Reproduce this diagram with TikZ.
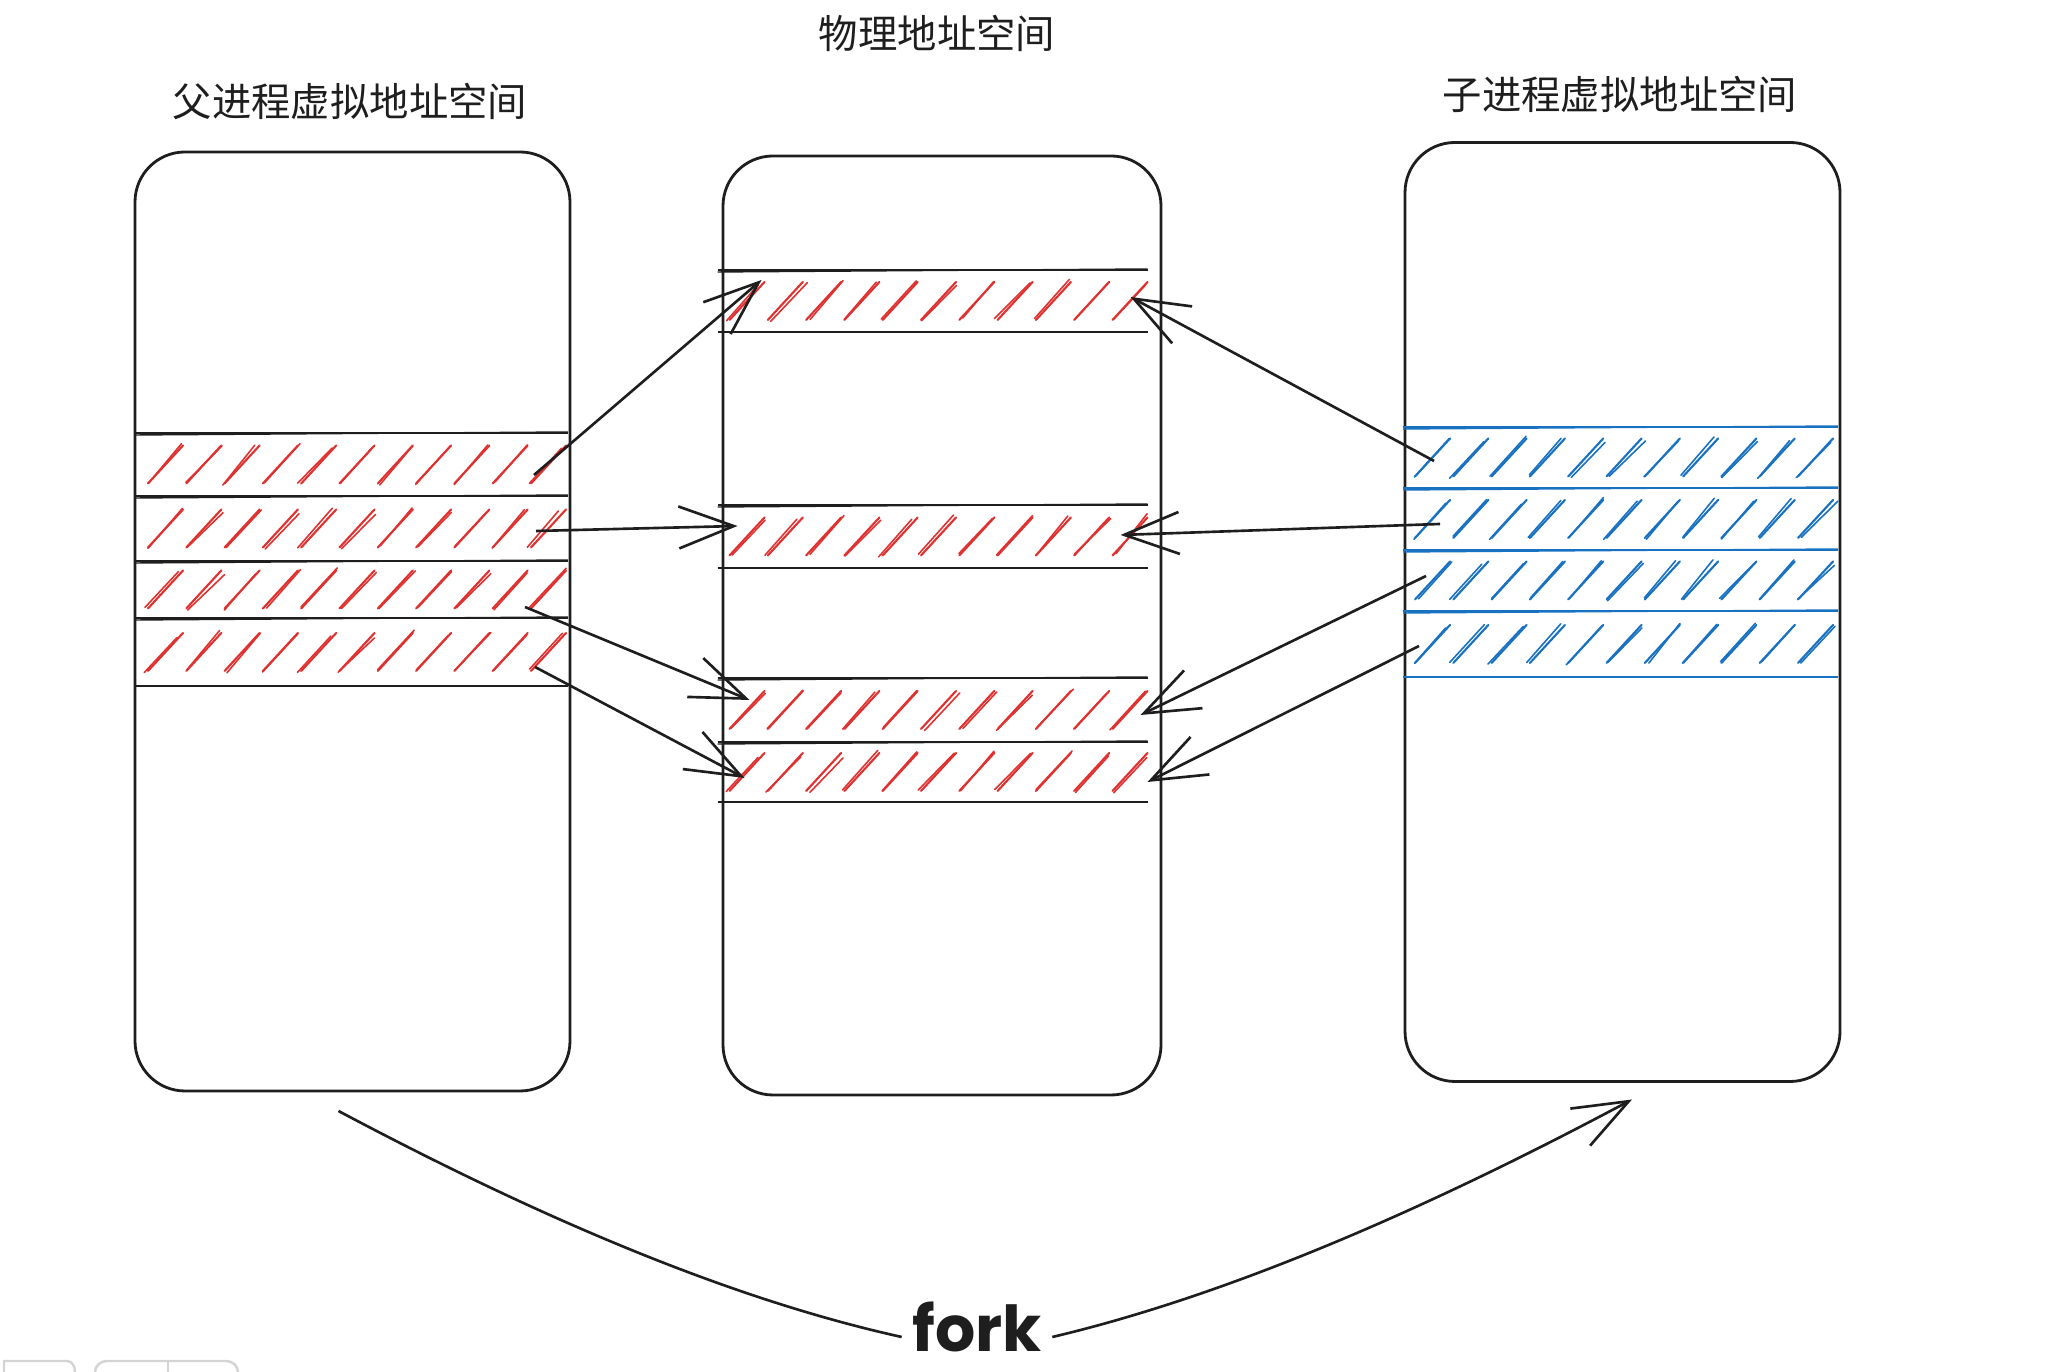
\documentclass[tikz,border=0pt]{standalone}
\usepackage{fontspec}
\newfontfamily\cjkfont{Noto Sans CJK SC}
\newfontfamily\handfont{Poppins}
\usetikzlibrary{arrows.meta,calc,positioning}
\definecolor{ink}{HTML}{1E1E1E}
\definecolor{inkred}{HTML}{E03131}
\definecolor{inkblue}{HTML}{1971C2}
\definecolor{uigray}{HTML}{D4D4D4}

\begin{document}
\begin{tikzpicture}[
procbox/.style={draw=ink,line width=.8pt,rounded corners=.5cm,inner sep=0,outer sep=0,
  minimum width=4.35cm,minimum height=9.39cm},
band/.style={inner sep=0,outer sep=0,minimum width=4.32cm},
title/.style={text=ink,font=\cjkfont\fontsize{11.2}{13}\selectfont},
hatch/.style={line width=.6pt,line cap=round},
bandline/.style={line width=.8pt},
link/.style={draw=ink,line width=.75pt,-{Straight Barb[length=.55cm,width=.42cm]}},
ui/.style={draw=uigray,line width=.7pt}]
\useasboundingbox (0,0) rectangle (20.68,13.72);
\pgfmathsetseed{42}

% three address spaces
\node[procbox] (parent) at (3.525,7.505) {};
\node[procbox,minimum width=4.38cm] (phys) at (9.42,7.465) {};
\node[procbox] (child) at (16.225,7.60) {};

\node[title] (ptitle) at (3.50,12.70) {父进程虚拟地址空间};
\node[title] (mtitle) at (9.37,13.39) {物理地址空间};
\node[title] (ctitle) at (16.20,12.78) {子进程虚拟地址空间};

% pages of the parent
\node[band,minimum height=.63cm] (L1) at (3.52,9.075) {};
\node[band,minimum height=.65cm,below=0pt of L1] (L2) {};
\node[band,minimum height=.57cm,below=0pt of L2] (L3) {};
\node[band,minimum height=.68cm,below=0pt of L3] (L4) {};

% physical frames
\node[band,minimum width=4.30cm,minimum height=.62cm] (P1) at (9.325,10.71) {};
\node[band,minimum width=4.30cm,minimum height=.63cm] (P2) at (9.325,8.355) {};
\node[band,minimum width=4.30cm,minimum height=.64cm] (P3) at (9.325,6.62) {};
\node[band,minimum width=4.30cm,minimum height=.60cm,below=0pt of P3] (P4) {};

% pages of the child
\node[band,minimum width=4.35cm,minimum height=.61cm] (C1) at (16.205,9.145) {};
\node[band,minimum width=4.35cm,minimum height=.62cm,below=0pt of C1] (C2) {};
\node[band,minimum width=4.35cm,minimum height=.61cm,below=0pt of C2] (C3) {};
\node[band,minimum width=4.35cm,minimum height=.66cm,below=0pt of C3] (C4) {};

\foreach \b/\c in {L1/ink,L2/ink,L3/ink,L4/ink,P1/ink,P2/ink,P3/ink,P4/ink,
                   C1/inkblue,C2/inkblue,C3/inkblue,C4/inkblue} {
  \draw[bandline,draw=\c] (\b.north west) -- (\b.north east)
                          (\b.south west) -- (\b.south east);
  \draw[bandline,draw=\c,line width=.4pt] ([yshift=-.02cm]\b.north west) -- ([yshift=.01cm]\b.north east);
}

% hatching
\foreach \b/\c in {L1/inkred,L2/inkred,L3/inkred,L4/inkred,
                   P1/inkred,P2/inkred,P3/inkred,P4/inkred,
                   C1/inkblue,C2/inkblue,C3/inkblue,C4/inkblue} {
  \foreach \k in {0,...,10} {
    \pgfmathsetmacro\sx{0.29+0.383*\k}
    \draw[hatch,draw=\c] ($(\b.west)+({\sx-0.17},-0.19)$) -- ++(0.35,0.38);
    \draw[hatch,draw=\c,line width=.45pt]
      ($(\b.west)+({\sx-0.17+0.04*rand},{-0.19+0.02*rand})$) -- ++({0.34+0.03*rand},{0.37+0.03*rand});
  }
}

% copy on write mappings
\draw[link] ($(L1.east)+(-0.34,-0.105)$) -- ($(P1.west)+(0.44,0.21)$);
\draw[link] ($(L2.east)+(-0.32,-0.025)$) -- ($(P2.west)+(0.20,0.105)$);
\draw[link] ($(L3.east)+(-0.43,-0.175)$) -- ($(P3.west)+(0.32,0.10)$);
\draw[link] ($(L4.east)+(-0.33,-0.15)$) -- ($(P4.west)+(0.27,-0.06)$);
\draw[link] ($(C1.west)+(0.31,-0.035)$) -- ($(P1.east)+(-0.17,0.04)$);
\draw[link] ($(C2.west)+(0.37,-0.05)$) -- ($(P2.east)+(-0.27,0.015)$);
\draw[link] ($(C3.west)+(0.23,0.045)$) -- ($(P3.east)+(-0.07,-0.05)$);
\draw[link] ($(C4.west)+(0.16,-0.02)$) -- ($(P4.east)+(0,-0.10)$);

% fork
\node[text=ink,font=\handfont\bfseries\fontsize{18}{21}\selectfont,inner xsep=.1cm,inner ysep=.01cm] (fork) at (9.77,0.45) {fork};
\draw[ink,line width=.75pt] ($(parent.south)+(-0.14,-0.2)$)
  .. controls (5.53,1.47) and (7.39,0.71) .. ([yshift=-.1cm]fork.west);
\draw[link] ([yshift=-.1cm]fork.east) .. controls (12.17,0.74) and (14.08,1.53) .. ($(child.south)+(0.095,-0.18)$);

% toolbar remains at the bottom edge
\draw[ui] (0.04,0) -- (0.04,0.11) -- (0.67,0.11) to[out=0,in=90] (0.75,0);
\draw[ui] (0.95,0) to[out=90,in=180] (1.07,0.11) -- (2.26,0.11) to[out=0,in=90] (2.38,0);
\draw[ui] (1.68,0) -- (1.68,0.11);
\end{tikzpicture}
\end{document}
